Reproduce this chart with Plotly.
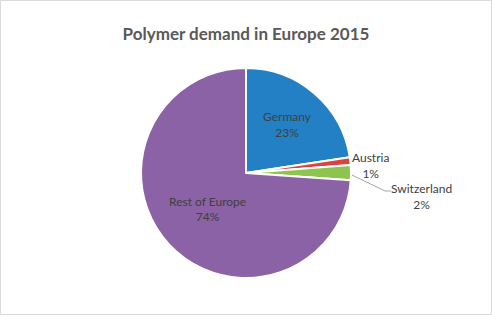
import plotly.graph_objects as go

labels = ["Germany", "Austria", "Switzerland", "Rest of Europe"]
values = [22.6, 1.2, 2.3, 73.9]
colors = ["#2380C4", "#D9443F", "#8CC44E", "#8A62A5"]
inside = [True, False, False, True]
title_text = "Polymer demand in Europe 2015"

W, H = 492, 315
cx, cy, r = 246, 173, 105
total = sum(values)
pct = [f"{round(v / total * 100)}%" for v in values]

fig = go.Figure(go.Pie(
    labels=labels, values=values, sort=False, direction="clockwise", rotation=0,
    marker=dict(colors=colors, line=dict(color="white", width=2)),
    textposition="inside",
    texttemplate=[("%{label}<br>%{percent:.0%}" if i else "") for i in inside],
    textfont=dict(family="Lato", size=12, color="#404040"),
    insidetextorientation="horizontal",
    showlegend=False, hoverinfo="skip",
    domain=dict(x=[(cx - r) / W, (cx + r) / W], y=[(H - cy - r) / H, (H - cy + r) / H]),
))

# outside labels (Austria, Switzerland) placed like the reference
out_pos = {1: (370, 165), 2: (421, 196)}
annotations = []
for i, (px, py) in out_pos.items():
    annotations.append(dict(
        text=f"{labels[i]}<br>{pct[i]}", x=px / W, y=1 - py / H, xref="paper", yref="paper",
        xanchor="center", yanchor="middle", showarrow=False, align="center",
        font=dict(family="Lato", size=12, color="#404040")))

def P(x, y):
    return f"{x / W} {1 - y / H}"

fig.update_layout(
    width=W, height=H, margin=dict(l=0, r=0, t=0, b=0),
    paper_bgcolor="white",
    title=dict(text="<b>" + title_text + "</b>", x=0.5, xanchor="center", y=1 - 34 / H,
               yanchor="middle", font=dict(family="Lato", size=17, color="#595959")),
    annotations=annotations,
    shapes=[
        dict(type="rect", xref="paper", yref="paper", x0=0.001, x1=0.999, y0=0.0016, y1=0.9984,
             line=dict(color="#D9D9D9", width=1)),
        dict(type="path", xref="paper", yref="paper",
             path=f"M {P(352, 175)} L {P(385, 191)} L {P(391, 191)}",
             line=dict(color="#A6A6A6", width=1)),
    ],
)

fig.write_html("out.html")
